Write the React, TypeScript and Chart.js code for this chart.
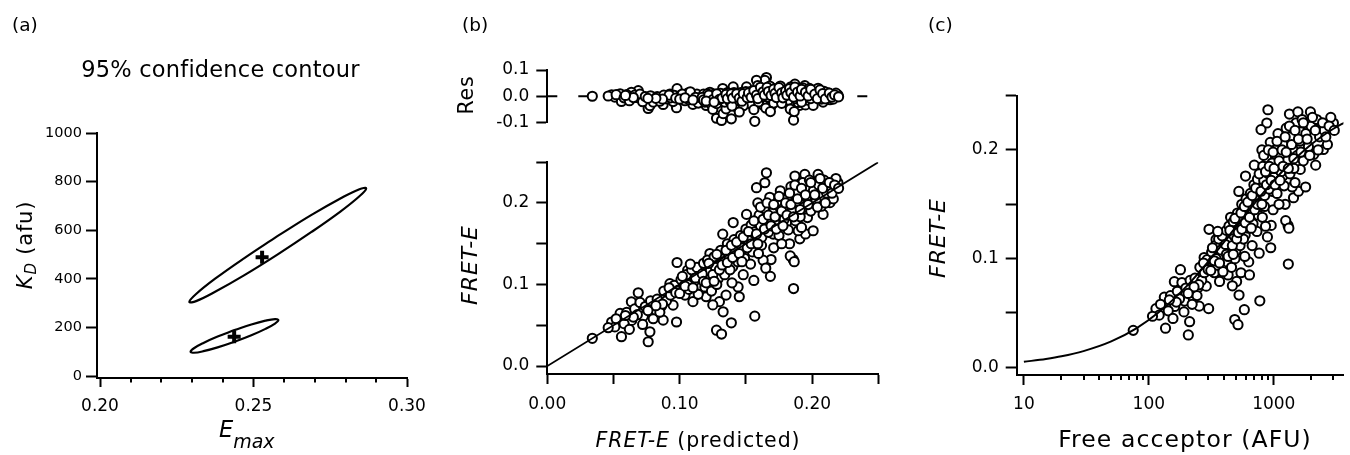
import React, { useEffect, useRef } from 'react';
import { Chart, registerables } from 'chart.js';

Chart.register(...registerables);

const FONT = '"DejaVu Sans", "Liberation Sans", sans-serif';
const INK = '#000000';

// ---------- panel (a): 95% confidence contours of the fit ----------
const bigContourEmax = [0.2579, 0.2469, 0.2375, 0.2313, 0.2291, 0.2313, 0.2375, 0.2469, 0.2579, 0.2689, 0.2783, 0.2845, 0.2867, 0.2845, 0.2783, 0.2689, 0.2579];
const bigContourKd = [576.5, 484.2, 400.3, 337.3, 305, 308.2, 346.5, 414.0, 500.5, 592.8, 676.7, 739.7, 772, 768.8, 730.5, 663.0, 576.5];
const smallContourEmax = [0.2438, 0.2383, 0.2337, 0.2306, 0.2295, 0.2306, 0.2337, 0.2383, 0.2438, 0.2493, 0.2539, 0.2570, 0.2581, 0.2570, 0.2539, 0.2493, 0.2438];
const smallContourKd = [189, 162.3, 136.0, 114.1, 100, 95.7, 102.1, 117.9, 141, 167.7, 194.0, 215.9, 230, 234.3, 227.9, 212.1, 189];
const bestFitEmax = [0.2528, 0.2437];
const bestFitKd = [489, 162];

const aXTicks = [0.2, 0.25, 0.3];
const aXTickLabels = ['0.20', '0.25', '0.30'];
const aXMinorTicks = [0.21, 0.22, 0.23, 0.24, 0.26, 0.27, 0.28, 0.29];
const aYTicks = [0, 200, 400, 600, 800, 1000];
const aYTickLabels = ['0', '200', '400', '600', '800', '1000'];

// ---------- panels (b) and (c): measured vs predicted FRET-E ----------
const predictedE = [
  0.034, 0.0486, 0.055, 0.051, 0.056, 0.0637, 0.0687, 0.0635, 0.0725, 0.0762,
  0.0775, 0.0813, 0.0863, 0.0875, 0.0926, 0.0976, 0.098, 0.095, 0.104, 0.106,
  0.110, 0.115, 0.120, 0.1215, 0.1228, 0.1278, 0.1316, 0.130, 0.1328, 0.135,
  0.139, 0.140, 0.1441, 0.1454, 0.1567, 0.1618, 0.169, 0.163, 0.1857, 0.186,
  0.183, 0.1907, 0.195, 0.1655, 0.1643, 0.158, 0.159, 0.1693, 0.1404, 0.1325,
  0.1505, 0.187, 0.1945, 0.2045, 0.212, 0.2195, 0.197, 0.1858, 0.1908, 0.2135,
  0.2083, 0.1965, 0.1807, 0.1732, 0.1706, 0.153, 0.2008, 0.1895, 0.046, 0.052,
  0.058, 0.060, 0.062, 0.066, 0.068, 0.070, 0.072, 0.074, 0.078, 0.080,
  0.083, 0.085, 0.088, 0.090, 0.093, 0.096, 0.099, 0.101, 0.103, 0.105,
  0.107, 0.109, 0.111, 0.113, 0.114, 0.116, 0.118, 0.119, 0.121, 0.123,
  0.124, 0.126, 0.127, 0.129, 0.131, 0.133, 0.134, 0.136, 0.137, 0.138,
  0.141, 0.142, 0.144, 0.146, 0.147, 0.149, 0.150, 0.152, 0.154, 0.155,
  0.157, 0.160, 0.161, 0.162, 0.164, 0.166, 0.167, 0.168, 0.170, 0.172,
  0.174, 0.175, 0.176, 0.178, 0.179, 0.181, 0.182, 0.184, 0.185, 0.1875,
  0.188, 0.190, 0.191, 0.193, 0.194, 0.196, 0.198, 0.199, 0.201, 0.203,
  0.205, 0.207, 0.209, 0.211, 0.214, 0.216, 0.218, 0.1535, 0.1595, 0.165,
  0.171, 0.177, 0.148, 0.156, 0.145, 0.1685, 0.1835, 0.1865, 0.192, 0.125,
  0.128, 0.1395, 0.092, 0.097, 0.102, 0.106, 0.108, 0.112, 0.117, 0.118,
  0.122, 0.125, 0.128, 0.130, 0.132, 0.135, 0.136, 0.139, 0.140, 0.143,
  0.145, 0.147, 0.148, 0.151, 0.152, 0.154, 0.156, 0.158, 0.159, 0.161,
  0.163, 0.164, 0.166, 0.167, 0.169, 0.171, 0.172, 0.173, 0.175, 0.177,
  0.178, 0.180, 0.181, 0.183, 0.184, 0.186, 0.187, 0.189, 0.191, 0.192,
  0.195, 0.197, 0.199, 0.202, 0.204, 0.206, 0.208, 0.210, 0.213, 0.215,
  0.217, 0.220, 0.087, 0.082, 0.076, 0.065, 0.059, 0.100, 0.104, 0.110,
  0.120, 0.126,
];
const measuredE = [
  0.034, 0.054, 0.0645, 0.048, 0.036, 0.056, 0.0898, 0.0788, 0.061, 0.0298,
  0.042, 0.0686, 0.0735, 0.0563, 0.101, 0.054, 0.127, 0.0747, 0.087, 0.1176,
  0.079, 0.099, 0.085, 0.1114, 0.138, 0.044, 0.0392, 0.079, 0.0665, 0.087,
  0.053, 0.1216, 0.097, 0.148, 0.0612, 0.148, 0.1306, 0.1298, 0.1306, 0.095,
  0.150, 0.156, 0.162, 0.237, 0.2248, 0.2187, 0.200, 0.2024, 0.176, 0.1618,
  0.186, 0.233, 0.235, 0.235, 0.2248, 0.2248, 0.2167, 0.2106, 0.1984, 0.2004,
  0.186, 0.1821, 0.176, 0.190, 0.1618, 0.1638, 0.1659, 0.1659, 0.047, 0.058,
  0.052, 0.066, 0.045, 0.070, 0.063, 0.078, 0.051, 0.073, 0.080, 0.058,
  0.082, 0.066, 0.092, 0.080, 0.087, 0.099, 0.093, 0.106, 0.098, 0.112,
  0.094, 0.118, 0.104, 0.121, 0.088, 0.110, 0.126, 0.097, 0.130, 0.116,
  0.092, 0.134, 0.121, 0.107, 0.142, 0.128, 0.112, 0.150, 0.136, 0.118,
  0.155, 0.140, 0.128, 0.160, 0.145, 0.132, 0.168, 0.154, 0.173, 0.140,
  0.165, 0.185, 0.172, 0.158, 0.193, 0.178, 0.164, 0.207, 0.188, 0.175,
  0.200, 0.160, 0.215, 0.193, 0.180, 0.205, 0.167, 0.220, 0.190, 0.178,
  0.212, 0.201, 0.183, 0.225, 0.195, 0.208, 0.228, 0.190, 0.215, 0.203,
  0.222, 0.196, 0.228, 0.212, 0.218, 0.205, 0.230, 0.125, 0.138, 0.120,
  0.145, 0.150, 0.112, 0.105, 0.085, 0.110, 0.135, 0.128, 0.170, 0.075,
  0.100, 0.102, 0.096, 0.090, 0.110, 0.100, 0.125, 0.108, 0.113, 0.104,
  0.126, 0.112, 0.137, 0.118, 0.124, 0.142, 0.127, 0.148, 0.133, 0.152,
  0.138, 0.128, 0.158, 0.145, 0.165, 0.150, 0.178, 0.162, 0.150, 0.195,
  0.180, 0.168, 0.200, 0.185, 0.172, 0.198, 0.183, 0.168, 0.208, 0.190,
  0.172, 0.200, 0.185, 0.212, 0.198, 0.183, 0.222, 0.205, 0.192, 0.218,
  0.210, 0.198, 0.225, 0.210, 0.195, 0.230, 0.218, 0.200, 0.225, 0.212,
  0.222, 0.218, 0.076, 0.074, 0.068, 0.060, 0.062, 0.089, 0.098, 0.096,
  0.102, 0.104,
];
const freeAcceptor = [
  75, 114, 133, 121, 136, 161, 179, 160, 193, 207,
  212, 227, 248, 253, 277, 301, 303, 288, 334, 345,
  368, 398, 431, 441, 451, 487, 517, 504, 527, 546,
  581, 590, 630, 643, 773, 842, 953, 859, 1300, 1307,
  1233, 1438, 1576, 897, 879, 790, 803, 958, 594, 525,
  698, 1334, 1559, 1964, 2391, 2999, 1647, 1302, 1441, 2495,
  2163, 1629, 1180, 1027, 980, 728, 1797, 1403, 107, 124,
  143, 149, 156, 169, 176, 184, 191, 198, 214, 222,
  234, 243, 256, 265, 278, 293, 308, 318, 329, 340,
  351, 362, 374, 386, 392, 405, 418, 424, 438, 452,
  459, 474, 481, 497, 512, 529, 537, 554, 563, 572,
  600, 610, 629, 650, 660, 682, 693, 716, 740, 752,
  777, 817, 831, 845, 874, 905, 920, 937, 970, 1005,
  1042, 1061, 1080, 1121, 1142, 1186, 1209, 1257, 1282, 1347,
  1361, 1418, 1447, 1510, 1542, 1611, 1685, 1723, 1805, 1893,
  1989, 2092, 2204, 2326, 2531, 2686, 2858, 733, 810, 889,
  987, 1101, 671, 764, 639, 945, 1245, 1320, 1478, 466,
  489, 586, 274, 298, 323, 345, 356, 380, 411, 418,
  445, 466, 489, 504, 520, 546, 554, 581, 590, 619,
  639, 660, 671, 704, 716, 740, 764, 790, 803, 831,
  859, 874, 905, 920, 953, 987, 1005, 1023, 1061, 1101,
  1121, 1164, 1186, 1233, 1257, 1307, 1334, 1389, 1447, 1478,
  1576, 1647, 1723, 1848, 1940, 2039, 2146, 2263, 2460, 2607,
  2770, 3049, 251, 230, 206, 166, 146, 313, 334, 368,
  431, 474,
];

const identityLineX = [0, 0.25];
const identityLineY = [0, 0.25];
const zeroLineX = [0, 0.25];
const zeroLineY = [0, 0];

const eTicks = [0, 0.05, 0.1, 0.15, 0.2, 0.25];
const bXTickLabels = ['0.00', '', '0.10', '', '0.20', ''];
const eYTickLabels = ['0.0', '', '0.1', '', '0.2', ''];
const resTicks = [-0.1, 0, 0.1];
const resTickLabels = ['-0.1', '0.0', '0.1'];

// binding curve of panel (c)
const curveAcceptor = [10, 15, 20, 30, 50, 80, 120, 200, 300, 500, 800, 1200, 2000, 3000, 3800];
const curveE = [0.0051, 0.0077, 0.0101, 0.0149, 0.0238, 0.0361, 0.0506, 0.0745, 0.0975, 0.1294, 0.1588, 0.1816, 0.2052, 0.2195, 0.2261];
const cXTicks = [10, 100, 1000];
const cXTickLabels = ['10', '100', '1000'];
const cXMinorTicks = [20, 30, 40, 50, 60, 70, 80, 90, 200, 300, 400, 500, 600, 700, 800, 900, 2000, 3000];

// ---------- helpers ----------
type Part = { t: string; size: number; italic?: boolean; dy?: number };
type Label = { parts: Part[]; x: number; y: number; align: 'left' | 'center'; rotate?: boolean; ls?: number };

const fontOf = (p: Part) => `${p.italic ? 'italic ' : ''}${p.size}px ${FONT}`;

function textPlugin(id: string, labels: Label[], ox: number, oy: number) {
  return {
    id,
    afterDraw(chart: any) {
      const ctx = chart.ctx as CanvasRenderingContext2D;
      for (const lb of labels) {
        ctx.save();
        (ctx as any).letterSpacing = `${lb.ls ?? 0}px`;
        ctx.fillStyle = INK;
        ctx.textAlign = 'left';
        ctx.textBaseline = 'alphabetic';
        ctx.translate(lb.x - ox, lb.y - oy);
        if (lb.rotate) ctx.rotate(-Math.PI / 2);
        const widths = lb.parts.map((p) => {
          ctx.font = fontOf(p);
          return ctx.measureText(p.t).width;
        });
        const total = widths.reduce((a, b) => a + b, 0);
        let cx = lb.align === 'center' ? -total / 2 : 0;
        lb.parts.forEach((p, i) => {
          ctx.font = fontOf(p);
          ctx.fillText(p.t, cx, p.dy ?? 0);
          cx += widths[i];
        });
        ctx.restore();
      }
    },
  };
}

function minorTickPlugin(id: string, axisId: string, values: number[], len: number) {
  return {
    id,
    afterDraw(chart: any) {
      const sc = chart.scales[axisId];
      const ctx = chart.ctx as CanvasRenderingContext2D;
      const y0 = chart.chartArea.bottom;
      ctx.save();
      ctx.strokeStyle = INK;
      ctx.lineWidth = 2;
      ctx.beginPath();
      values.forEach((v) => {
        const px = Math.round(sc.getPixelForValue(v));
        ctx.moveTo(px, y0);
        ctx.lineTo(px, y0 + len);
      });
      ctx.stroke();
      ctx.restore();
    },
  };
}

type AxisOpts = {
  type?: string;
  min: number;
  max: number;
  ticks: number[];
  labels: string[];
  tickLength: number;
  padding: number;
  size: number;
  fit: number;
  horizontal: boolean;
};

function axis(o: AxisOpts) {
  return {
    type: o.type ?? 'linear',
    display: true,
    min: o.min,
    max: o.max,
    bounds: 'data',
    position: o.horizontal ? 'bottom' : 'left',
    border: { display: true, color: INK, width: 2 },
    grid: {
      display: true,
      drawOnChartArea: false,
      drawTicks: true,
      tickLength: o.tickLength,
      tickWidth: 2,
      tickColor: INK,
      color: INK,
    },
    ticks: {
      autoSkip: false,
      maxRotation: 0,
      minRotation: 0,
      padding: o.padding,
      color: INK,
      font: { family: FONT, size: o.size },
      callback: (_v: any, i: number) => o.labels[i] ?? '',
    },
    afterBuildTicks: (s: any) => {
      s.ticks = o.ticks.map((v) => ({ value: v }));
    },
    afterFit: (s: any) => {
      if (o.horizontal) s.height = o.fit;
      else s.width = o.fit;
    },
  };
}

const pts = (xs: number[], ys: number[]) => xs.map((x, i) => ({ x, y: ys[i] }));

const circleStyle = {
  pointRadius: 4.6,
  pointBorderWidth: 2,
  pointBackgroundColor: '#ffffff',
  pointBorderColor: INK,
  backgroundColor: '#ffffff',
  borderColor: INK,
  clip: false as any,
};

const baseOptions = (padding: any, scales: any) => ({
  responsive: false,
  animation: false,
  devicePixelRatio: 1,
  events: [],
  layout: { padding },
  plugins: { legend: { display: false }, tooltip: { enabled: false }, title: { display: false } },
  scales,
});

// canvas placements (page pixels)
const A = { left: 0, top: 0, width: 440, height: 455 };
const BR = { left: 440, top: 0, width: 455, height: 145 };
const BM = { left: 440, top: 145, width: 455, height: 310 };
const C = { left: 895, top: 0, width: 455, height: 455 };

export default function App() {
  const aRef = useRef<HTMLCanvasElement>(null);
  const brRef = useRef<HTMLCanvasElement>(null);
  const bmRef = useRef<HTMLCanvasElement>(null);
  const cRef = useRef<HTMLCanvasElement>(null);

  useEffect(() => {
    const charts: Chart[] = [];

    // ----- panel (a) -----
    charts.push(
      new Chart(aRef.current as HTMLCanvasElement, {
        type: 'scatter',
        data: {
          datasets: [
            {
              data: pts(bigContourEmax, bigContourKd),
              showLine: true,
              borderColor: INK,
              borderWidth: 2.2,
              pointRadius: 0,
              tension: 0.4,
              fill: false,
            },
            {
              data: pts(smallContourEmax, smallContourKd),
              showLine: true,
              borderColor: INK,
              borderWidth: 2.2,
              pointRadius: 0,
              tension: 0.4,
              fill: false,
            },
            {
              data: pts(bestFitEmax, bestFitKd),
              pointStyle: 'cross',
              pointRadius: 6.5,
              pointBorderWidth: 4,
              pointBorderColor: INK,
              borderColor: INK,
              clip: false,
            },
          ],
        } as any,
        options: baseOptions(
          { left: 0, top: 133, right: 33, bottom: 0 },
          {
            x: axis({ min: 0.19902, max: 0.3, ticks: aXTicks, labels: aXTickLabels, tickLength: 9, padding: 9.3, size: 17, fit: 77, horizontal: true }),
            y: axis({ min: -8.2, max: 1000, ticks: aYTicks, labels: aYTickLabels, tickLength: 11, padding: 4, size: 14.5, fit: 97, horizontal: false }),
          }
        ) as any,
        plugins: [
          minorTickPlugin('aMinor', 'x', aXMinorTicks, 4.5),
          textPlugin('aText', [
            { parts: [{ t: '(a)', size: 18.5 }], x: 12, y: 31, align: 'left' },
            { parts: [{ t: '95% confidence contour', size: 22.5 }], x: 220.5, y: 77, align: 'center', ls: 0.2 },
            {
              parts: [
                { t: 'K', size: 21, italic: true },
                { t: 'D', size: 15, italic: true, dy: 4 },
                { t: ' (afu)', size: 21 },
              ],
              x: 32,
              y: 245,
              align: 'center',
              rotate: true,
              ls: 0.8,
            },
            {
              parts: [
                { t: 'E', size: 22.5, italic: true },
                { t: 'max', size: 19, italic: true, dy: 11 },
              ],
              x: 219,
              y: 436.7,
              align: 'left',
              ls: 0,
            },
          ], A.left, A.top),
        ],
      })
    );

    // ----- panel (b) residuals -----
    const residuals = measuredE.map((m, i) => +(m - predictedE[i]).toFixed(4));
    charts.push(
      new Chart(brRef.current as HTMLCanvasElement, {
        type: 'scatter',
        data: {
          datasets: [
            { data: pts(predictedE, residuals), order: 1, ...circleStyle },
            {
              data: pts(zeroLineX, zeroLineY),
              showLine: true,
              borderColor: INK,
              borderWidth: 2,
              borderDash: [10, 21],
              pointRadius: 0,
              order: 2,
            },
          ],
        } as any,
        options: baseOptions(
          { left: 0, top: 70, right: 16.7, bottom: 22.5 },
          {
            x: { type: 'linear', display: false, min: 0, max: 0.25, bounds: 'data' },
            y: axis({ min: -0.1, max: 0.1, ticks: resTicks, labels: resTickLabels, tickLength: 11, padding: 7, size: 17, fit: 107.3, horizontal: false }),
          }
        ) as any,
        plugins: [
          textPlugin('brText', [
            { parts: [{ t: '(b)', size: 18.5 }], x: 462, y: 31, align: 'left' },
            { parts: [{ t: 'Res', size: 20.5 }], x: 473, y: 95, align: 'center', rotate: true, ls: 0.8 },
          ], BR.left, BR.top),
        ],
      })
    );

    // ----- panel (b) measured vs predicted -----
    charts.push(
      new Chart(bmRef.current as HTMLCanvasElement, {
        type: 'scatter',
        data: {
          datasets: [
            {
              data: pts(identityLineX, identityLineY),
              showLine: true,
              borderColor: INK,
              borderWidth: 1.8,
              pointRadius: 0,
              order: 0,
            },
            { data: pts(predictedE, measuredE), order: 1, ...circleStyle },
          ],
        } as any,
        options: baseOptions(
          { left: 0, top: 16, right: 16.7, bottom: 0 },
          {
            x: axis({ min: 0, max: 0.25, ticks: eTicks, labels: bXTickLabels, tickLength: 10, padding: 10, size: 17, fit: 81, horizontal: true }),
            y: axis({ min: -0.00976, max: 0.25, ticks: eTicks, labels: eYTickLabels, tickLength: 11, padding: 7, size: 17, fit: 107.3, horizontal: false }),
          }
        ) as any,
        plugins: [
          textPlugin('bmText', [
            { parts: [{ t: 'FRET-E', size: 22, italic: true }], x: 477, y: 265, align: 'center', rotate: true, ls: 1 },
            {
              parts: [
                { t: 'FRET-E', size: 20.5, italic: true },
                { t: ' (predicted)', size: 20.5 },
              ],
              x: 698,
              y: 446.7,
              align: 'center',
              ls: 0.9,
            },
          ], BM.left, BM.top),
        ],
      })
    );

    // ----- panel (c) -----
    charts.push(
      new Chart(cRef.current as HTMLCanvasElement, {
        type: 'scatter',
        data: {
          datasets: [
            {
              data: pts(curveAcceptor, curveE),
              showLine: true,
              borderColor: INK,
              borderWidth: 2,
              pointRadius: 0,
              cubicInterpolationMode: 'monotone',
              order: 0,
            },
            { data: pts(freeAcceptor, measuredE), order: 1, ...circleStyle },
          ],
        } as any,
        options: baseOptions(
          { left: 0, top: 95.6, right: 0, bottom: 0 },
          {
            x: axis({ type: 'logarithmic', min: 8.76, max: 3606, ticks: cXTicks, labels: cXTickLabels, tickLength: 10, padding: 9.3, size: 17, fit: 80, horizontal: true }),
            y: axis({ min: -0.00706, max: 0.25, ticks: eTicks, labels: eYTickLabels, tickLength: 11, padding: 7, size: 17, fit: 121.7, horizontal: false }),
          }
        ) as any,
        plugins: [
          minorTickPlugin('cMinor', 'x', cXMinorTicks, 5),
          textPlugin('cText', [
            { parts: [{ t: '(c)', size: 18.5 }], x: 928, y: 31, align: 'left' },
            { parts: [{ t: 'FRET-E', size: 22, italic: true }], x: 945, y: 238, align: 'center', rotate: true, ls: 1 },
            { parts: [{ t: 'Free acceptor (AFU)', size: 23.5 }], x: 1185, y: 447, align: 'center', ls: 1.1 },
          ], C.left, C.top),
        ],
      })
    );

    return () => {
      charts.forEach((c) => c.destroy());
    };
  }, []);

  const cv = (r: { left: number; top: number; width: number; height: number }) => ({
    position: 'absolute' as const,
    left: r.left,
    top: r.top,
    width: r.width,
    height: r.height,
  });

  return (
    <div
      style={{
        position: 'fixed',
        left: 0,
        top: 0,
        width: 1350,
        height: 455,
        background: '#ffffff',
        overflow: 'hidden',
      }}
    >
      <canvas ref={aRef} width={A.width} height={A.height} style={cv(A)} />
      <canvas ref={brRef} width={BR.width} height={BR.height} style={cv(BR)} />
      <canvas ref={bmRef} width={BM.width} height={BM.height} style={cv(BM)} />
      <canvas ref={cRef} width={C.width} height={C.height} style={cv(C)} />
    </div>
  );
}
